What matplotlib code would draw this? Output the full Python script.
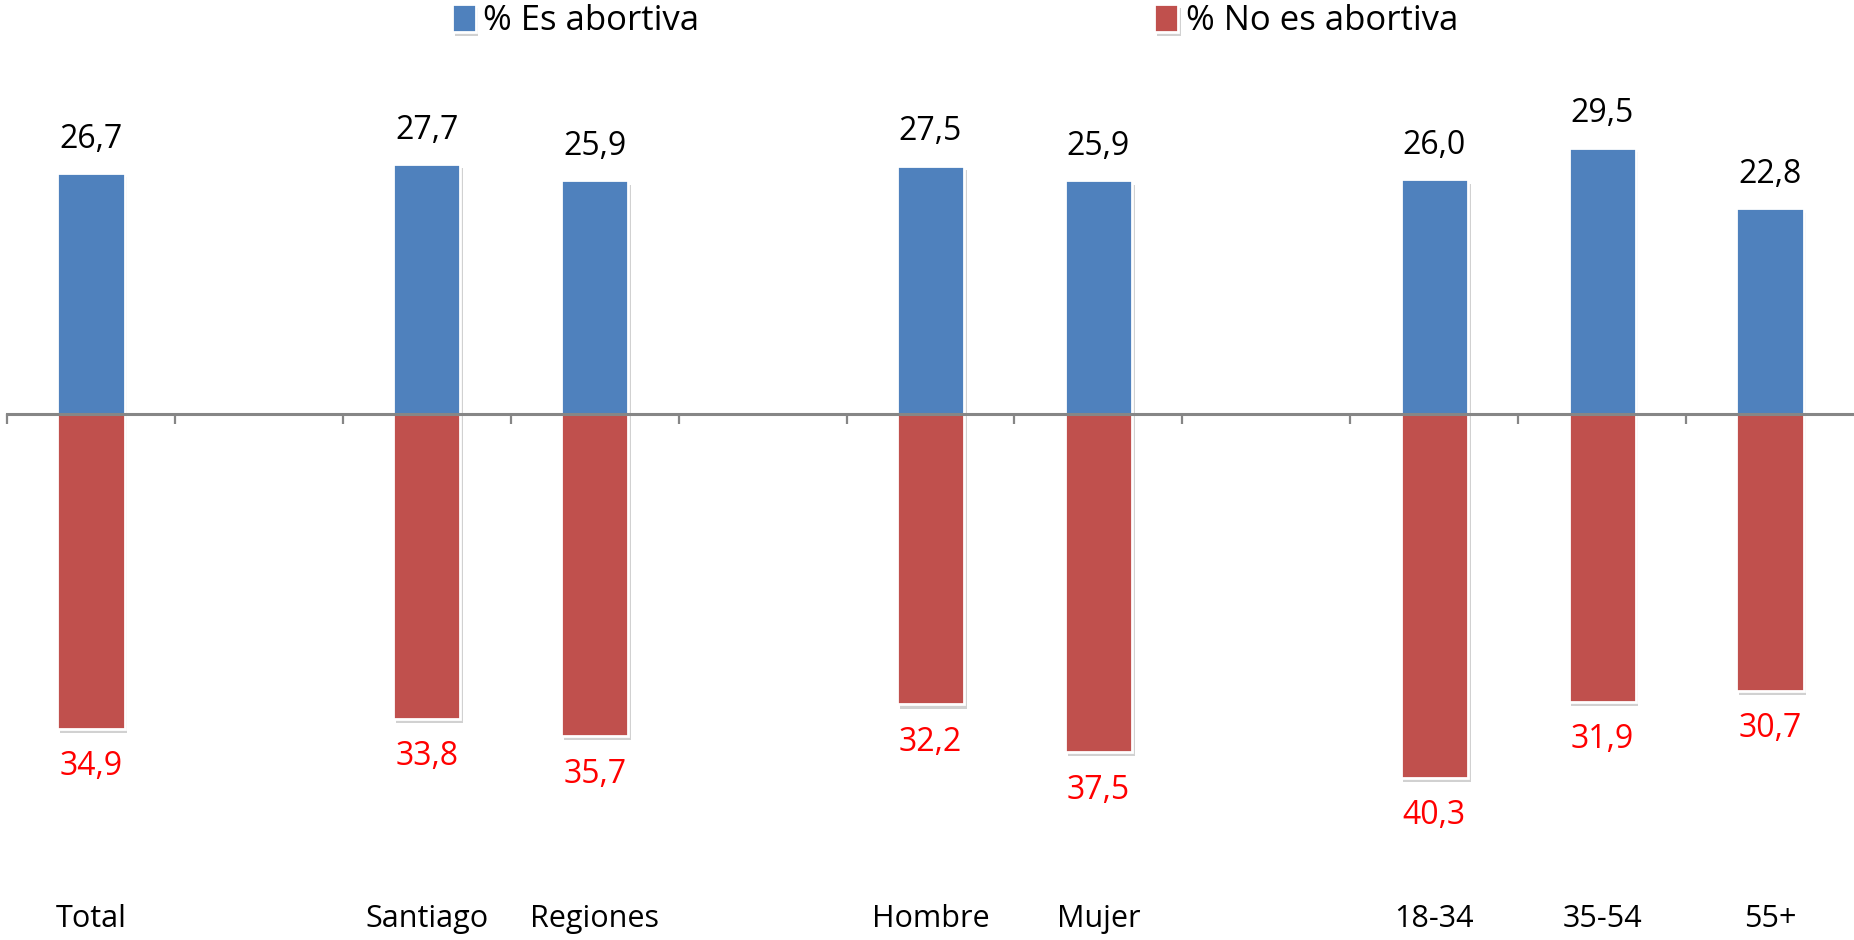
import matplotlib
matplotlib.use("Agg")
import matplotlib.pyplot as plt
import matplotlib.patheffects as pe
import numpy as np

categories = ["Total", "", "Santiago", "Regiones", "", "Hombre", "Mujer", "", "18-34", "35-54", "55+"]
es_abortiva = [26.7, None, 27.7, 25.9, None, 27.5, 25.9, None, 26.0, 29.5, 22.8]
no_es_abortiva = [34.9, None, 33.8, 35.7, None, 32.2, 37.5, None, 40.3, 31.9, 30.7]
series_names = ["% Es abortiva", "% No es abortiva"]

BLUE = "#4F81BD"
RED = "#C0504D"

plt.rcParams['font.family'] = ['Open Sans', 'DejaVu Sans']

W, H = 1854, 940
fig = plt.figure(figsize=(W / 100, H / 100), dpi=100)
ax = fig.add_axes([7 / W, 0, (W - 7) / W, 1])

x = np.arange(len(categories))
idx = [i for i, v in enumerate(es_abortiva) if v is not None]
pos_vals = [es_abortiva[i] for i in idx]
neg_vals = [-no_es_abortiva[i] for i in idx]

shadow = [pe.SimplePatchShadow(offset=(2, -3), shadow_rgbFace="#000000", alpha=0.18), pe.Normal()]
width = 0.40
b1 = ax.bar(x[idx], pos_vals, width=width, color=BLUE, edgecolor="white", linewidth=2.0,
            label=series_names[0], zorder=3)
b2 = ax.bar(x[idx], neg_vals, width=width, color=RED, edgecolor="white", linewidth=2.0,
            label=series_names[1], zorder=3)
for p in list(b1) + list(b2):
    p.set_path_effects(shadow)

fs = 22
fs_lab = 23
for i in idx:
    ax.annotate(f"{es_abortiva[i]:.1f}".replace(".", ","), (x[i], es_abortiva[i]),
                xytext=(0, 34), textcoords="offset pixels", ha="center", va="center",
                fontsize=fs_lab, color="black", zorder=5)
    ax.annotate(f"{no_es_abortiva[i]:.1f}".replace(".", ","), (x[i], -no_es_abortiva[i]),
                xytext=(0, -38), textcoords="offset pixels", ha="center", va="center",
                fontsize=fs_lab, color="#FF0000", zorder=5)

ax.set_xlim(-0.5, len(categories) - 0.5)
ax.set_ylim(-(H - 414) / 9.02, 414 / 9.02)

for s in ["top", "right", "left"]:
    ax.spines[s].set_visible(False)
ax.spines["bottom"].set_position(("data", 0))
ax.spines["bottom"].set_color("#868686")
ax.spines["bottom"].set_linewidth(2.2)
ax.spines["bottom"].set_zorder(4)
ax.set_yticks([])
ax.set_xticks(np.arange(-0.5, len(categories) - 0.5, 1.0))
ax.set_xticklabels([])
ax.tick_params(axis="x", direction="out", length=7.5, width=1.6, color="#868686")

for i, c in enumerate(categories):
    if c:
        ax.text(x[i], -(919 - 414) / 9.02, c, ha="center", va="center", fontsize=fs, color="black")

fig.legend(handles=[b1, b2], labels=series_names, loc="center",
           bbox_to_anchor=(955 / W, 1 - 21 / H), ncol=2, frameon=False, fontsize=25,
           handlelength=0.68, handleheight=0.85, handletextpad=0.22, columnspacing=13.1,
           borderpad=0.1)

fig.savefig("out.png", dpi=100)
